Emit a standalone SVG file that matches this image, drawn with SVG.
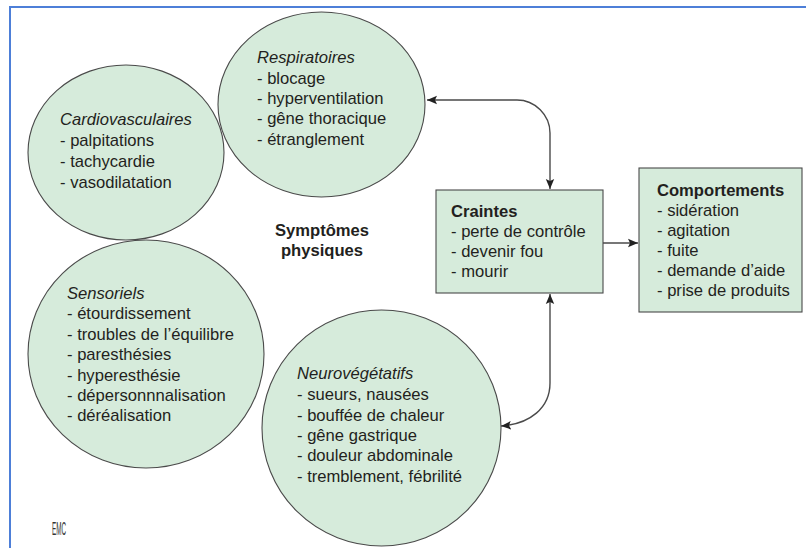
<svg xmlns="http://www.w3.org/2000/svg" width="806" height="548" viewBox="0 0 806 548">
<style>
.bg{fill:#ffffff}
.frame{stroke:#4d7fd8;stroke-width:2;fill:none}
.node{fill:#d6ebdb;stroke:#4a4a4a;stroke-width:1.1}
.t{font-family:"Liberation Sans",Arial,sans-serif;font-size:16.6px;fill:#231f20}
.h{font-style:italic}
.b{font-weight:bold}
.conn{fill:none;stroke:#4a4a4a;stroke-width:1.4}
.logo{font-family:"Liberation Sans",Arial,sans-serif;font-size:14px;fill:#333}
</style>
<defs>
<marker id="ah" viewBox="0 0 10 10" refX="10" refY="5" markerWidth="10" markerHeight="10" markerUnits="userSpaceOnUse" orient="auto-start-reverse">
<path d="M0,0.8 L10,5 L0,9.2 L2,5 Z" fill="#222"/>
</marker>
</defs>
<rect class="bg" x="0" y="0" width="806" height="548"/>
<path class="frame" d="M10,548 L10,7 L806,7"/>

<g id="cardiovasculaires">
<ellipse class="node" cx="126" cy="152.5" rx="98" ry="87.5"/>
<text class="t h" x="60" y="125">Cardiovasculaires</text>
<text class="t" x="60" y="146">- palpitations</text>
<text class="t" x="60" y="167">- tachycardie</text>
<text class="t" x="60" y="188">- vasodilatation</text>
</g>

<g id="respiratoires">
<ellipse class="node" cx="321.5" cy="104.5" rx="103.5" ry="92.5"/>
<text class="t h" x="257" y="63">Respiratoires</text>
<text class="t" x="257" y="84">- blocage</text>
<text class="t" x="257" y="104">- hyperventilation</text>
<text class="t" x="257" y="124">- gêne thoracique</text>
<text class="t" x="257" y="145">- étranglement</text>
</g>

<g id="sensoriels">
<ellipse class="node" cx="146" cy="354" rx="118" ry="114"/>
<text class="t h" x="67" y="299">Sensoriels</text>
<text class="t" x="67" y="319">- étourdissement</text>
<text class="t" x="67" y="340">- troubles de l’équilibre</text>
<text class="t" x="67" y="360">- paresthésies</text>
<text class="t" x="67" y="381">- hyperesthésie</text>
<text class="t" x="67" y="401">- dépersonnnalisation</text>
<text class="t" x="67" y="421">- déréalisation</text>
</g>

<g id="neurovegetatifs">
<ellipse class="node" cx="381.5" cy="428" rx="119.5" ry="118"/>
<text class="t h" x="297" y="379">Neurovégétatifs</text>
<text class="t" x="297" y="400">- sueurs, nausées</text>
<text class="t" x="297" y="421">- bouffée de chaleur</text>
<text class="t" x="297" y="441">- gêne gastrique</text>
<text class="t" x="297" y="461">- douleur abdominale</text>
<text class="t" x="297" y="482">- tremblement, fébrilité</text>
</g>

<g id="symptomes">
<text class="t b" x="322" y="236" text-anchor="middle">Symptômes</text>
<text class="t b" x="322" y="256" text-anchor="middle">physiques</text>
</g>

<g id="craintes">
<rect class="node" x="436" y="190" width="167" height="103"/>
<text class="t b" x="451" y="217">Craintes</text>
<text class="t" x="451" y="237">- perte de contrôle</text>
<text class="t" x="451" y="257">- devenir fou</text>
<text class="t" x="451" y="277">- mourir</text>
</g>

<g id="comportements">
<rect class="node" x="639" y="168" width="163" height="144"/>
<text class="t b" x="657" y="196">Comportements</text>
<text class="t" x="657" y="216">- sidération</text>
<text class="t" x="657" y="236">- agitation</text>
<text class="t" x="657" y="256">- fuite</text>
<text class="t" x="657" y="276">- demande d’aide</text>
<text class="t" x="657" y="296">- prise de produits</text>
</g>

<g id="connectors">
<path class="conn" d="M427,100 L517,100 C535,100 550,115 550,133 L550,189" marker-start="url(#ah)" marker-end="url(#ah)"/>
<path class="conn" d="M550,294 L550,383 C550,408 530,424 501,426" marker-start="url(#ah)" marker-end="url(#ah)"/>
<path class="conn" d="M603,243 L638,243" marker-end="url(#ah)"/>
</g>

<text class="logo" x="0" y="0" transform="translate(52,535) scale(0.45,1.35)">EMC</text>
</svg>
